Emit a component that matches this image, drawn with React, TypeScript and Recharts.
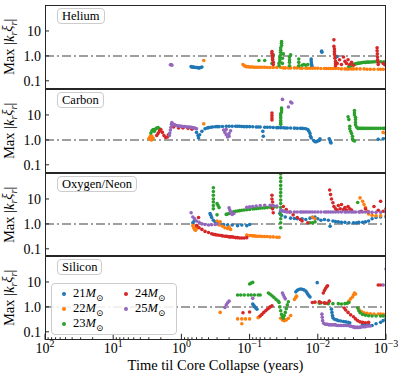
import React from "react";
import { ScatterChart, Scatter, XAxis, YAxis, ReferenceLine, Legend } from "recharts";

type Pt = [number, number];

const MASSES = ["21", "22", "23", "24", "25"];
const COLORS = ["#1f77b4", "#ff7f0e", "#2ca02c", "#d62728", "#9467bd"];
const PANEL_NAMES = ["Helium", "Carbon", "Oxygen/Neon", "Silicon"];
const X_MAJOR = [100, 10, 1, 0.1, 0.01, 0.001];
const X_EXP = ["2", "1", "0", "\u22121", "\u22122", "\u22123"];
const Y_TICKS = [0.1, 1, 10];
const Y_TICK_LABELS = ["0.1", "1.0", "10"];

// minor ticks (2..9 per decade) for the bottom axis
const X_MINOR: number[] = [];
[0.001, 0.01, 0.1, 1, 10].forEach((d) => {
  for (let k = 2; k <= 9; k++) X_MINOR.push(+(d * k).toPrecision(3));
});

// ---------- Helium ----------
const he21: Pt[] = [
  [0.72, 0.37], [0.7, 0.36], [0.68, 0.36], [0.66, 0.35], [0.65, 0.35], [0.62, 0.34], [0.6, 0.34], [0.58, 0.34],
  [0.56, 0.33], [0.55, 0.33], [0.52, 0.34], [0.5, 0.36],
  [0.0125, 0.75], [0.0125, 0.62], [0.0124, 0.52], [0.0123, 0.44], [0.0122, 0.38],
  [0.0088, 1.55], [0.0087, 1.4], [0.0052, 0.95],
];
const he22: Pt[] = [
  [0.47, 0.65],
  [0.125, 0.45], [0.12, 0.4], [0.115, 0.38], [0.11, 0.37], [0.105, 0.37], [0.1, 0.36], [0.095, 0.36], [0.09, 0.36],
  [0.085, 0.35], [0.08, 0.35], [0.075, 0.35], [0.07, 0.35], [0.065, 0.35], [0.06, 0.35], [0.055, 0.34],
  [0.05, 0.34], [0.045, 0.34], [0.04, 0.34], [0.035, 0.34], [0.032, 0.33], [0.03, 0.33], [0.027, 0.33],
  [0.025, 0.33], [0.022, 0.33], [0.02, 0.33], [0.018, 0.32], [0.017, 0.32], [0.015, 0.32], [0.014, 0.32],
  [0.013, 0.32], [0.012, 0.32], [0.011, 0.32], [0.01, 0.32], [0.009, 0.31], [0.008, 0.31], [0.0075, 0.31],
  [0.007, 0.31], [0.0065, 0.31], [0.006, 0.31], [0.0055, 0.31], [0.005, 0.31], [0.0045, 0.3], [0.004, 0.3],
  [0.0037, 0.3], [0.0035, 0.3], [0.0032, 0.3], [0.003, 0.3], [0.0027, 0.3], [0.0024, 0.3], [0.0021, 0.3],
  [0.0019, 0.29], [0.0017, 0.29], [0.0015, 0.29], [0.0013, 0.29], [0.0012, 0.29], [0.0011, 0.29], [0.001, 0.29],
];
const he23: Pt[] = [
  [0.073, 0.65], [0.06, 0.65],
  [0.047, 0.5], [0.046, 0.7], [0.046, 0.9], [0.045, 1.1],
  [0.037, 0.4], [0.037, 0.5], [0.036, 0.6], [0.036, 0.75], [0.036, 0.9], [0.035, 1.1], [0.035, 1.4], [0.035, 1.7],
  [0.035, 2.1], [0.034, 2.6], [0.034, 3.2], [0.034, 3.8], [0.033, 0.5], [0.033, 0.8], [0.032, 1.2],
  [0.026, 0.4], [0.026, 0.55], [0.026, 0.7], [0.026, 0.9], [0.025, 1.1],
  [0.019, 0.4], [0.019, 0.55], [0.019, 0.75],
  [0.017, 0.42], [0.016, 0.45], [0.015, 0.42], [0.014, 0.45],
  [0.0035, 0.38], [0.0033, 0.4], [0.0032, 0.42], [0.003, 0.45], [0.0029, 0.46], [0.0028, 0.48], [0.0027, 0.49],
  [0.0026, 0.5], [0.0025, 0.51], [0.0024, 0.52], [0.0023, 0.53], [0.0022, 0.54], [0.0021, 0.55], [0.002, 0.55],
  [0.0019, 0.56], [0.0018, 0.56], [0.0017, 0.57], [0.0016, 0.57], [0.0015, 0.58], [0.0014, 0.58], [0.0013, 0.58],
  [0.0012, 0.58], [0.0011, 0.57], [0.00105, 0.56], [0.001, 0.55],
];
const he24: Pt[] = [
  [0.047, 1.5], [0.047, 1.25], [0.046, 1.05], [0.046, 0.85], [0.046, 0.7], [0.045, 0.55], [0.045, 0.45],
  [0.0058, 4.4], [0.0058, 2.4], [0.0057, 1.9], [0.0057, 1.5], [0.0057, 1.2], [0.0056, 1.0], [0.0056, 0.8],
  [0.0055, 0.6], [0.0055, 0.48], [0.0055, 0.4],
  [0.0052, 0.5], [0.0048, 0.7], [0.0045, 0.45], [0.0042, 0.9], [0.004, 0.6], [0.0038, 0.5], [0.0036, 0.7],
  [0.0034, 0.45], [0.0032, 0.55], [0.003, 0.42],
  [0.00135, 2.1], [0.00135, 1.6], [0.00134, 1.2], [0.00133, 0.9], [0.00133, 0.7], [0.0013, 0.55], [0.0013, 0.45],
  [0.0011, 0.5], [0.00105, 0.45], [0.001, 0.42],
];
const he25: Pt[] = [[1.45, 0.44], [1.38, 0.42], [1.41, 0.45]];

// ---------- Carbon ----------
const c21: Pt[] = [
  [0.6, 2.0], [0.57, 1.5], [0.56, 1.2], [0.54, 1.6], [0.5, 2.2], [0.45, 2.8], [0.42, 3.0], [0.4, 3.1],
  [0.37, 3.2], [0.35, 3.3], [0.32, 3.35], [0.3, 3.4], [0.28, 3.4], [0.25, 3.45], [0.22, 3.5], [0.2, 3.5],
  [0.18, 3.5], [0.16, 3.5], [0.15, 3.5], [0.14, 3.5], [0.13, 3.45], [0.12, 3.4], [0.11, 3.4], [0.1, 3.4],
  [0.09, 3.35], [0.08, 3.3], [0.075, 3.3], [0.07, 3.3], [0.064, 2.2], [0.063, 1.4], [0.06, 3.2], [0.055, 3.2],
  [0.05, 3.2], [0.045, 3.15], [0.04, 3.1], [0.038, 3.1], [0.035, 3.1], [0.032, 3.05], [0.03, 3.0], [0.028, 3.0],
  [0.025, 3.0], [0.022, 2.95], [0.02, 2.9], [0.018, 2.9], [0.017, 2.9], [0.016, 2.85], [0.015, 2.8],
  [0.014, 2.6], [0.0135, 2.2], [0.013, 1.8], [0.0128, 1.4], [0.0125, 1.2],
  [0.0115, 0.95], [0.011, 0.85], [0.0105, 0.85], [0.01, 0.9], [0.0095, 0.95], [0.0093, 1.1],
  [0.0068, 1.1], [0.0066, 0.95], [0.0065, 0.8], [0.0064, 0.75],
  [0.0013, 1.05], [0.0011, 1.1], [0.001, 1.15],
];
const c22: Pt[] = [
  [3.0, 1.1], [2.9, 1.3], [2.8, 1.5], [2.7, 1.35], [2.6, 1.15], [2.75, 1.0],
  [0.47, 4.4], [0.0011, 2.0], [0.001, 1.8],
];
const c23: Pt[] = [
  [2.8, 1.9], [2.7, 2.3], [2.6, 2.6], [2.5, 2.2], [2.4, 2.7], [2.3, 3.0], [2.2, 3.1], [2.1, 2.8],
  [0.035, 4.2], [0.035, 5], [0.035, 6], [0.035, 7.5], [0.035, 9], [0.035, 11], [0.034, 13], [0.034, 16], [0.034, 19],
  [0.0036, 8.5], [0.0035, 6.5], [0.0034, 3.5], [0.0034, 2.8], [0.0033, 2.2], [0.0032, 1.8], [0.0031, 1.4],
  [0.0031, 1.1], [0.003, 0.95], [0.0029, 0.9],
  [0.0029, 15], [0.0029, 12], [0.0029, 10], [0.0028, 8], [0.0028, 6.5], [0.0028, 5], [0.0028, 4], [0.0027, 3.3],
  [0.0026, 2.9], [0.0025, 2.9], [0.0024, 2.9], [0.0023, 2.9], [0.0022, 2.9], [0.0021, 2.9], [0.002, 2.9],
  [0.0019, 2.9], [0.0018, 2.9], [0.0017, 2.9], [0.0016, 2.9], [0.0015, 2.9], [0.0014, 2.9], [0.0013, 2.9],
  [0.0012, 2.9], [0.0011, 2.9], [0.00105, 2.9], [0.001, 2.9],
];
const c24: Pt[] = [
  [2.3, 1.5], [2.2, 1.8], [2.1, 2.2], [2.0, 2.6], [1.9, 2.0], [1.8, 1.5], [1.7, 1.25], [1.6, 1.3], [1.55, 1.6],
  [1.3, 3.3], [1.1, 3.0], [0.95, 3.0], [0.8, 2.9], [0.7, 2.7],
  [0.047, 12], [0.047, 9.5], [0.047, 7.5], [0.047, 6.3],
];
const c25: Pt[] = [
  [1.5, 1.5], [1.48, 1.9], [1.45, 2.5], [1.42, 3.2], [1.4, 4.2], [1.38, 5.0], [1.3, 4.2], [1.25, 4.0],
  [1.2, 3.8], [1.15, 3.7], [1.1, 3.6], [1.05, 3.55], [1.0, 3.5], [0.95, 3.45], [0.9, 3.4], [0.85, 3.35],
  [0.8, 3.3], [0.76, 3.25], [0.72, 3.2], [0.68, 3.1], [0.65, 3.0], [0.62, 2.9], [0.6, 2.8],
  [0.24, 2.5], [0.23, 2.0], [0.22, 1.6], [0.21, 1.3], [0.2, 1.8], [0.19, 2.3], [0.22, 2.6], [0.2, 1.4],
  [0.033, 42], [0.027, 21], [0.025, 33], [0.024, 30],
];

// ---------- Oxygen/Neon ----------
const o21: Pt[] = [
  [0.68, 1.1], [0.65, 1.3],
  [0.38, 2.6], [0.37, 2.2], [0.36, 1.8], [0.34, 1.4], [0.32, 1.2], [0.3, 1.1], [0.27, 1.0], [0.24, 0.95],
  [0.21, 0.9], [0.18, 0.9], [0.15, 0.85], [0.13, 0.9], [0.11, 0.85], [0.1, 0.95],
  [0.036, 2.6], [0.034, 2.2], [0.03, 1.9], [0.025, 1.7], [0.022, 1.65], [0.02, 1.6], [0.017, 1.6], [0.015, 1.5],
  [0.013, 1.7], [0.012, 1.8], [0.011, 1.9], [0.01, 1.6], [0.009, 1.4], [0.008, 1.5], [0.007, 1.4], [0.0066, 0.8],
  [0.006, 1.3], [0.0055, 1.25], [0.005, 1.2], [0.0045, 1.15], [0.004, 1.15], [0.0035, 1.1], [0.003, 1.1],
  [0.0027, 1.1], [0.0025, 1.15], [0.0022, 1.15], [0.002, 1.2], [0.0018, 1.3], [0.0016, 1.6], [0.0014, 1.8],
  [0.0012, 1.9], [0.001, 1.9],
];
const o22: Pt[] = [
  [0.68, 0.85], [0.66, 0.7], [0.64, 0.6], [0.62, 0.55], [0.6, 0.65], [0.58, 0.8],
  [0.3, 1.3], [0.29, 1.1], [0.28, 0.9], [0.27, 1.2], [0.25, 0.8], [0.23, 0.7], [0.21, 0.65], [0.2, 0.75], [0.19, 0.6],
  [0.11, 0.36], [0.1, 0.34], [0.095, 0.34], [0.09, 0.33], [0.085, 0.33], [0.08, 0.32], [0.075, 0.32],
  [0.07, 0.32], [0.065, 0.31], [0.06, 0.31], [0.055, 0.31], [0.05, 0.3], [0.045, 0.3], [0.04, 0.29], [0.037, 0.29],
  [0.012, 1.9], [0.011, 1.6],
  [0.0024, 11], [0.0022, 8], [0.0021, 6], [0.002, 4.5], [0.0019, 3.3], [0.0018, 2.5], [0.0016, 2.2],
  [0.0014, 2.1], [0.0012, 2.1], [0.001, 2.1],
];
const o23: Pt[] = [
  [0.34, 28], [0.34, 20], [0.34, 14], [0.34, 10], [0.34, 7.5], [0.34, 5.5], [0.34, 4],
  [0.3, 6.5], [0.29, 5.5], [0.28, 4.5], [0.3, 2.3],
  [0.22, 2.4], [0.21, 2.5], [0.2, 2.6], [0.19, 2.75], [0.18, 2.9], [0.17, 3.05], [0.16, 3.2], [0.15, 3.3],
  [0.14, 3.4], [0.13, 3.5], [0.12, 3.6], [0.11, 3.7], [0.1, 3.8], [0.09, 4.0], [0.085, 4.05], [0.08, 4.1],
  [0.075, 4.2], [0.07, 4.3], [0.065, 4.35], [0.06, 4.4], [0.055, 4.5], [0.05, 4.6], [0.045, 4.7], [0.04, 4.8],
  [0.035, 100], [0.035, 70], [0.035, 50], [0.035, 35], [0.035, 25], [0.035, 18], [0.035, 13], [0.035, 9],
  [0.035, 6.5], [0.035, 4.5], [0.035, 3.2], [0.035, 2.3], [0.035, 1.6], [0.035, 1.1], [0.035, 0.7],
  [0.013, 1.1], [0.012, 1.1], [0.011, 1.2], [0.0026, 7.2],
];
const o24: Pt[] = [
  [0.56, 1.8],
  [0.6, 0.85], [0.55, 0.7], [0.5, 0.6], [0.45, 0.5], [0.4, 0.45], [0.36, 0.4], [0.34, 0.38], [0.32, 0.37],
  [0.3, 0.36], [0.28, 0.35], [0.26, 0.34], [0.25, 0.33], [0.23, 0.32], [0.22, 0.32], [0.21, 0.31], [0.2, 0.3],
  [0.19, 0.3], [0.18, 0.3], [0.17, 0.29], [0.16, 0.28], [0.15, 0.28], [0.14, 0.27], [0.13, 0.27], [0.12, 0.27],
  [0.11, 0.28],
  [0.047, 14], [0.047, 10], [0.046, 7.5], [0.046, 5.5], [0.046, 4], [0.045, 2.8],
  [0.032, 5], [0.029, 3.8], [0.026, 3], [0.023, 2.3], [0.02, 1.8], [0.018, 1.5], [0.017, 1.3], [0.014, 1.1],
  [0.0067, 23], [0.0065, 15], [0.0063, 10], [0.006, 7], [0.0058, 5], [0.0055, 4], [0.0052, 3.6], [0.005, 5.5],
  [0.0047, 4], [0.0045, 6], [0.0042, 3.8], [0.004, 4.5], [0.0038, 3.6], [0.0036, 5], [0.0034, 4], [0.0032, 3.6],
  [0.0023, 3.2], [0.002, 4], [0.0018, 3], [0.0015, 5], [0.0013, 3.5], [0.0012, 8], [0.0011, 3.2], [0.001, 4],
];
const o25: Pt[] = [
  [0.72, 2.8], [0.68, 1.9], [0.64, 1.6], [0.6, 1.3], [0.55, 1.15], [0.5, 1.0], [0.45, 0.95], [0.4, 0.9],
  [0.36, 0.92], [0.32, 0.95], [0.3, 1.0],
  [0.2, 4.4], [0.195, 3.6], [0.19, 3.0], [0.185, 2.6], [0.18, 2.4], [0.17, 2.6],
  [0.11, 4.6], [0.1, 4.8], [0.09, 5.0], [0.08, 5.2], [0.07, 5.4], [0.06, 5.6], [0.05, 5.6], [0.045, 5.4], [0.04, 5.2],
  [0.035, 3.5], [0.033, 3.3], [0.032, 3.3], [0.03, 3.1], [0.028, 3.0], [0.025, 3.0], [0.022, 3.0], [0.02, 3.0],
  [0.018, 3.0], [0.017, 3.0], [0.016, 3.0], [0.015, 3.0], [0.014, 3.0], [0.013, 3.0], [0.012, 3.0], [0.011, 3.0],
  [0.01, 3.0], [0.009, 3.0], [0.008, 3.0], [0.0075, 3.0], [0.007, 3.0], [0.0065, 3.0], [0.006, 3.0],
  [0.0055, 3.0], [0.005, 3.0], [0.0045, 3.0], [0.004, 3.0], [0.0038, 3.0], [0.0035, 3.0], [0.0032, 3.0],
  [0.003, 3.0], [0.0028, 3.0], [0.0025, 3.0], [0.0024, 3.0], [0.0022, 3.0], [0.002, 3.0], [0.0018, 3.0],
  [0.0016, 2.9], [0.0014, 2.9], [0.0012, 2.9], [0.001, 2.9],
];

// ---------- Silicon ----------
const si21: Pt[] = [
  [0.09, 1.3], [0.087, 1.15], [0.084, 1.0], [0.081, 0.9], [0.078, 0.8],
  [0.021, 4.0], [0.02, 4.6], [0.019, 5.0], [0.018, 5.2], [0.017, 5.1], [0.016, 4.8], [0.015, 4.3], [0.0145, 3.8],
  [0.014, 3.2], [0.0135, 2.8], [0.013, 2.5],
  [0.0102, 9.4],
  [0.0063, 0.81], [0.0062, 0.6], [0.0061, 0.45], [0.006, 0.37], [0.0057, 0.32], [0.0053, 0.3], [0.005, 0.28],
  [0.0046, 0.27], [0.0042, 0.26], [0.0039, 0.25], [0.0036, 0.24], [0.0034, 0.23],
  [0.0022, 0.2], [0.002, 0.18], [0.0018, 0.2], [0.0016, 0.18], [0.0014, 0.21], [0.0012, 0.24], [0.0011, 0.28], [0.001, 0.33],
];
const si22: Pt[] = [
  [0.27, 0.6],
  [0.15, 0.33], [0.13, 0.33], [0.115, 0.33], [0.1, 0.33], [0.13, 0.21], [0.075, 0.37], [0.072, 0.4],
  [0.035, 0.35], [0.033, 0.3], [0.031, 0.28], [0.029, 0.3], [0.027, 0.35], [0.025, 0.45],
  [0.022, 2.0], [0.021, 2.4], [0.0205, 2.7],
  [0.0037, 1.4], [0.0035, 1.7], [0.0033, 2.1], [0.0031, 2.5], [0.003, 3.0], [0.0029, 3.6], [0.0028, 3.3],
  [0.0025, 0.8], [0.0023, 0.65], [0.0021, 0.58], [0.0019, 0.55], [0.0017, 0.53], [0.0015, 0.52], [0.0013, 0.52],
  [0.0012, 0.52], [0.0011, 0.5], [0.001, 0.5],
];
const si23: Pt[] = [
  [0.15, 3], [0.135, 3], [0.12, 3], [0.105, 3], [0.095, 3], [0.1, 8.3], [0.095, 9], [0.09, 9.6],
  [0.085, 3], [0.075, 3], [0.07, 3],
  [0.053, 3.6], [0.05, 3.2], [0.047, 2.8], [0.044, 2.4], [0.041, 2.0], [0.038, 1.7],
  [0.037, 1.5], [0.036, 1.0], [0.035, 0.7], [0.034, 0.5], [0.033, 0.38], [0.032, 0.35], [0.031, 0.45],
  [0.03, 0.6], [0.029, 0.85], [0.028, 1.2], [0.027, 1.6],
  [0.0095, 1.4], [0.009, 1.45], [0.008, 1.4], [0.007, 1.35], [0.006, 1.35], [0.005, 1.35], [0.0045, 1.3],
  [0.004, 1.35], [0.0037, 1.4], [0.0035, 1.5],
  [0.0026, 0.9], [0.0025, 0.7], [0.0024, 0.58], [0.0022, 0.5], [0.002, 0.46], [0.0018, 0.44], [0.0016, 0.43],
  [0.0014, 0.43], [0.0012, 0.43], [0.0011, 0.43], [0.001, 0.43],
];
const si24: Pt[] = [
  [0.125, 0.58], [0.1, 0.62],
  [0.07, 0.43], [0.066, 0.5], [0.062, 0.6], [0.058, 0.7], [0.055, 0.8], [0.052, 0.9], [0.05, 1.0], [0.047, 1.1],
  [0.0083, 3.6], [0.008, 4.5], [0.0077, 5.5], [0.0074, 6.4], [0.0072, 7],
  [0.012, 1.5], [0.011, 1.55], [0.0095, 1.6], [0.009, 1.5], [0.008, 1.45], [0.0075, 1.4], [0.0068, 1.7],
  [0.0041, 0.9], [0.0039, 0.75], [0.0036, 0.6], [0.0033, 0.48], [0.003, 0.4], [0.0028, 0.33], [0.0026, 0.28],
  [0.0024, 0.25], [0.0022, 0.24], [0.002, 0.23], [0.0018, 0.24],
  [0.0013, 7.6], [0.0012, 7.6],
];
const si25: Pt[] = [
  [0.23, 0.95], [0.22, 1.2], [0.21, 1.45], [0.2, 1.7], [0.09, 2.2],
  [0.033, 3.6], [0.032, 3.0], [0.031, 2.5], [0.03, 2.1],
  [0.0087, 0.51], [0.0086, 0.38], [0.0085, 0.28], [0.0082, 0.22], [0.0078, 0.2], [0.0075, 0.2], [0.0072, 0.2],
  [0.0069, 0.19], [0.0066, 0.19], [0.0063, 0.19], [0.006, 0.19], [0.0057, 0.19], [0.0055, 0.19], [0.0052, 0.18],
  [0.005, 0.18], [0.0047, 0.18], [0.0045, 0.18], [0.0042, 0.18], [0.004, 0.18], [0.0038, 0.18], [0.0036, 0.18],
  [0.0034, 0.17], [0.0033, 0.17], [0.0031, 0.16], [0.003, 0.16], [0.0029, 0.15], [0.0028, 0.15], [0.0027, 0.15],
  [0.0026, 0.15], [0.0025, 0.15], [0.0024, 0.15], [0.0023, 0.16], [0.0022, 0.16], [0.0021, 0.16], [0.002, 0.16],
  [0.0019, 0.17], [0.0018, 0.17], [0.0017, 0.17], [0.0011, 7.6], [0.001, 33],
];

const PANEL_DATA: Pt[][][] = [
  [he21, he22, he23, he24, he25],
  [c21, c22, c23, c24, c25],
  [o21, o22, o23, o24, o25],
  [si21, si22, si23, si24, si25],
];

const FONT = "'Liberation Serif', 'DejaVu Serif', serif";
const PLOT_LEFT = 45;
const PLOT_RIGHT = 386;
const PANEL_TOP = 5;
const PANEL_H = 83.75;
const AXIS_H = 38;

const toPoints = (pts: Pt[]) => pts.map(([t, v]) => ({ t, v }));

const Dot = (props: any) => <circle cx={props.cx} cy={props.cy} r={1.8} fill={props.fill} />;

const XTick = (props: any) => {
  const { x, y, payload, showLabel } = props;
  const idx = X_MAJOR.indexOf(payload.value);
  const major = idx >= 0;
  return (
    <g>
      <line x1={x} x2={x} y1={y} y2={y - (major ? 6 : 2.5)} stroke="#222" strokeWidth={1} />
      {showLabel && major && (
        <text x={x} y={y + 13} textAnchor="middle" fontFamily={FONT} fontSize={14} fill="#000">
          10<tspan fontSize={10} dy={-6}>{X_EXP[idx]}</tspan>
        </text>
      )}
    </g>
  );
};

const YTick = (props: any) => {
  const { x, y, payload } = props;
  const idx = Y_TICKS.indexOf(payload.value);
  return (
    <g>
      <line x1={PLOT_LEFT} x2={PLOT_LEFT + 4} y1={y} y2={y} stroke="#222" strokeWidth={1} />
      <text x={x} y={y} dy={5} textAnchor="end" fontFamily={FONT} fontSize={14} fill="#000">
        {Y_TICK_LABELS[idx]}
      </text>
    </g>
  );
};

const YLabel = () => {
  const cx = 14;
  const cy = PANEL_H / 2;
  return (
    <text
      x={cx}
      y={cy}
      transform={`rotate(-90, ${cx}, ${cy})`}
      textAnchor="middle"
      fontFamily={FONT}
      fontSize={14.5}
      fill="#000"
    >
      Max |<tspan fontStyle="italic">k</tspan>
      <tspan fontStyle="italic" fontSize={10} dy={3}>r</tspan>
      <tspan fontStyle="italic" dy={-5}>{"\u03be"}</tspan>
      <tspan fontStyle="italic" fontSize={10} dy={5}>r</tspan>
      <tspan dy={-3}>|</tspan>
    </text>
  );
};

const XLabel = () => (
  <text
    x={(PLOT_LEFT + PLOT_RIGHT) / 2}
    y={PANEL_H + 30}
    textAnchor="middle"
    fontFamily={FONT}
    fontSize={14.5}
    fill="#000"
  >
    Time til Core Collapse (years)
  </text>
);

const renderLegend = (props: any) => {
  const { payload } = props;
  return (
    <div
      style={{
        position: "relative",
        width: 126,
        height: 52,
        boxSizing: "border-box",
        border: "1px solid #cccccc",
        borderRadius: 4,
        background: "rgba(255,255,255,0.85)",
        fontFamily: FONT,
        fontSize: 12.5,
      }}
    >
      {(payload || []).map((entry: any, i: number) => (
        <div
          key={`legend-${i}`}
          style={{
            position: "absolute",
            left: 10 + Math.floor(i / 3) * 62,
            top: 2 + (i % 3) * 15,
            height: 15,
            display: "flex",
            alignItems: "center",
            whiteSpace: "nowrap",
          }}
        >
          <span
            style={{
              width: 4,
              height: 4,
              borderRadius: "50%",
              background: entry.color,
              marginRight: 7,
            }}
          />
          <span>
            {entry.value}
            <i>M</i>
            <sub style={{ fontSize: 9 }}>{"\u2299"}</sub>
          </span>
        </div>
      ))}
    </div>
  );
};

const Panel = ({ index }: { index: number }) => {
  const last = index === 3;
  const top = PANEL_TOP + index * PANEL_H;
  return (
    <div style={{ position: "absolute", left: 0, top }}>
      <ScatterChart
        width={407}
        height={PANEL_H + (last ? AXIS_H : 0)}
        margin={{ top: 0, right: 407 - PLOT_RIGHT, bottom: 0, left: 0 }}
      >
        <XAxis
          dataKey="t"
          type="number"
          scale="log"
          domain={[0.001, 100]}
          reversed
          allowDataOverflow
          ticks={last ? [...X_MAJOR, ...X_MINOR] : X_MAJOR}
          interval={0}
          tickSize={0}
          tickMargin={0}
          tickLine={false}
          axisLine={false}
          height={last ? AXIS_H : 0}
          tick={(p: any) => <XTick {...p} showLabel={last} />}
          label={last ? { content: XLabel } : undefined}
        />
        <YAxis
          dataKey="v"
          type="number"
          scale="log"
          domain={[0.048, 110]}
          allowDataOverflow
          ticks={Y_TICKS}
          interval={0}
          width={PLOT_LEFT}
          tickSize={0}
          tickMargin={4}
          tickLine={false}
          axisLine={false}
          tick={(p: any) => <YTick {...p} />}
          label={{ content: YLabel }}
        />
        <ReferenceLine y={1} stroke="#808080" strokeWidth={1.5} strokeDasharray="9 3 2 3" />
        {MASSES.map((m, i) => (
          <Scatter
            key={m}
            name={m}
            data={toPoints(PANEL_DATA[index][i])}
            fill={COLORS[i]}
            shape={Dot}
            isAnimationActive={false}
          />
        ))}
        {last && (
          <Legend
            layout="horizontal"
            verticalAlign="middle"
            align="center"
            content={renderLegend}
            wrapperStyle={{ left: 51, top: 27, width: 126, height: 52 }}
          />
        )}
      </ScatterChart>
      <div
        style={{
          position: "absolute",
          left: PLOT_LEFT,
          top: 0,
          width: PLOT_RIGHT - PLOT_LEFT,
          height: PANEL_H,
          boxSizing: "border-box",
          border: "1px solid #262626",
          pointerEvents: "none",
        }}
      />
      <div
        style={{
          position: "absolute",
          left: 57,
          top: 3,
          padding: "0 4px",
          height: 16,
          lineHeight: "15px",
          boxSizing: "border-box",
          border: "1px solid #cccccc",
          borderRadius: 4,
          background: "rgba(255,255,255,0.85)",
          fontFamily: FONT,
          fontSize: 12.5,
          whiteSpace: "nowrap",
        }}
      >
        {PANEL_NAMES[index]}
      </div>
    </div>
  );
};

export default function App() {
  return (
    <div
      style={{
        position: "absolute",
        left: 0,
        top: 0,
        width: 407,
        height: 379,
        background: "#fff",
        overflow: "hidden",
      }}
    >
      {PANEL_NAMES.map((_, i) => (
        <Panel key={i} index={i} />
      ))}
    </div>
  );
}
